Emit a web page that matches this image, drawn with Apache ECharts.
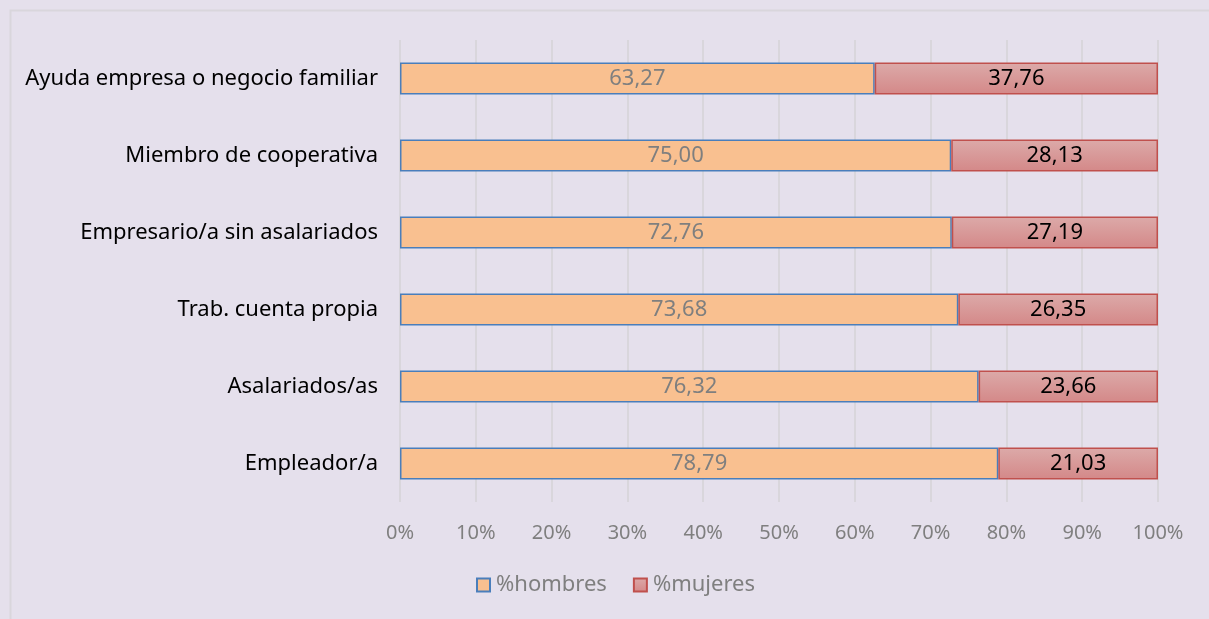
<!DOCTYPE html>
<html>
<head>
<meta charset="utf-8">
<script src="https://cdn.jsdelivr.net/npm/echarts@6/dist/echarts.min.js"></script>
<style>
  html, body { margin: 0; padding: 0; background: #e5e0ec; }
  #main { width: 1209px; height: 619px; }
</style>
</head>
<body>
<div id="main"></div>
<script>
// categorias (de abajo arriba, como en el eje)
var categorias = [
  'Empleador/a',
  'Asalariados/as',
  'Trab. cuenta propia',
  'Empresario/a sin asalariados',
  'Miembro de cooperativa',
  'Ayuda empresa o negocio familiar'
];
var hombres = [78.79, 76.32, 73.68, 72.76, 75.00, 63.27];
var mujeres = [21.03, 23.66, 26.35, 27.19, 28.13, 37.76];
var ticksX = ['0%', '10%', '20%', '30%', '40%', '50%', '60%', '70%', '80%', '90%', '100%'];

// barra 100% apilada: cada valor se reparte sobre el total de su fila
function share (arr, i) {
  return arr[i] / (hombres[i] + mujeres[i]) * 100;
}
var datH = hombres.map(function (v, i) { return { value: share(hombres, i), raw: v }; });
var datM = mujeres.map(function (v, i) { return { value: share(mujeres, i), raw: v }; });

function fmt (p) {
  return p.data.raw.toFixed(2).replace('.', ',');
}

var font = 'Noto Sans';
var chart = echarts.init(document.getElementById('main'));

chart.setOption({
  backgroundColor: '#e5e0ec',
  animation: false,
  textStyle: { fontFamily: font },
  graphic: [{
    type: 'rect',
    shape: { x: 10.5, y: 10.5, width: 1240, height: 700 },
    style: { fill: 'none', stroke: '#d9d6dc', lineWidth: 2 },
    silent: true
  }],
  grid: { left: 400, right: 51, top: 40, bottom: 117 },
  legend: {
    top: 574,
    left: 476,
    padding: 0,
    icon: 'rect',
    itemWidth: 13,
    itemHeight: 13,
    itemGap: 26,
    textStyle: { color: '#7f7f7f', fontSize: 22, fontFamily: font, padding: [0, 0, 0, 1] },
    data: ['%hombres', '%mujeres']
  },
  xAxis: {
    type: 'value',
    min: 0,
    max: 100,
    interval: 10,
    axisLine: { show: false },
    axisTick: { show: false },
    axisLabel: {
      color: '#7f7f7f',
      fontSize: 20,
      margin: 21,
      formatter: function (v) { return ticksX[Math.round(v / 10)]; }
    },
    splitLine: { lineStyle: { color: '#d9d6dc', width: 2 } }
  },
  yAxis: {
    type: 'category',
    data: categorias,
    axisLine: { show: false },
    axisTick: { show: false },
    axisLabel: { color: '#000', fontSize: 22, margin: 22 }
  },
  series: [
    {
      name: '%hombres',
      type: 'bar',
      stack: 'total',
      barWidth: 32,
      data: datH,
      itemStyle: { color: '#f9c090', borderColor: '#4a7ebb', borderWidth: 1.5 },
      label: {
        show: true,
        position: 'inside',
        color: '#7f7f7f',
        fontSize: 22,
        formatter: fmt
      }
    },
    {
      name: '%mujeres',
      type: 'bar',
      stack: 'total',
      data: datM,
      itemStyle: {
        color: new echarts.graphic.LinearGradient(0, 0, 0, 1, [
          { offset: 0, color: '#dcaaa9' },
          { offset: 1, color: '#d48888' }
        ]),
        borderColor: '#c0504d',
        borderWidth: 1.5
      },
      label: {
        show: true,
        position: 'inside',
        color: '#000',
        fontSize: 22,
        formatter: fmt
      }
    }
  ]
});
</script>
</body>
</html>
